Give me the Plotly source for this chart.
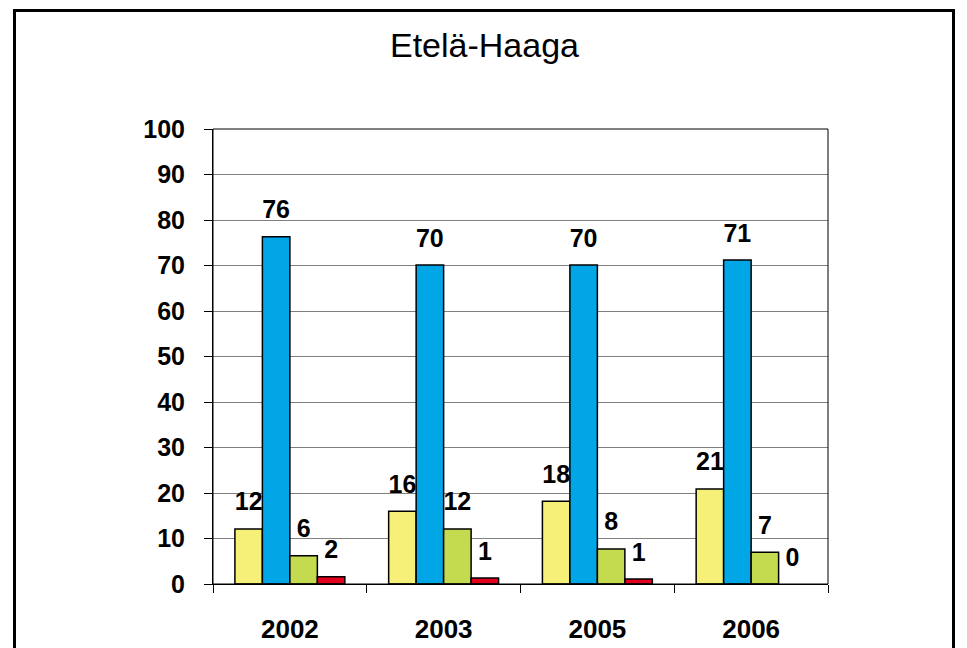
import plotly.graph_objects as go

years = ["2002", "2003", "2005", "2006"]
series_yellow = [12.1, 16.0, 18.2, 20.9]
series_blue = [76.3, 70.1, 70.1, 71.2]
series_green = [6.2, 12.1, 7.7, 7.0]
series_red = [1.6, 1.3, 1.1, 0.0]
y_ticks = [0, 10, 20, 30, 40, 50, 60, 70, 80, 90, 100]

colors = ["#F6EF78", "#00A6E6", "#C4DB50", "#E1001E"]
all_series = [series_yellow, series_blue, series_green, series_red]
names = ["s1", "s2", "s3", "s4"]

FONT = "Liberation Sans, Arial, sans-serif"
GAP = 0.285

fig = go.Figure()
for name, vals, col in zip(names, all_series, colors):
    fig.add_trace(go.Bar(
        x=years, y=vals, name=name,
        marker=dict(color=col, line=dict(color="black",
                                         width=[1.5 if v > 0 else 0 for v in vals])),
        showlegend=False, hoverinfo="skip",
    ))
for name, vals in zip(names, all_series):
    fig.add_trace(go.Scatter(
        x=years, y=vals, mode="markers+text",
        text=[f"{v:.0f}" for v in vals],
        textposition="top center",
        textfont=dict(family=FONT, size=25, color="black", weight="bold"),
        marker=dict(size=18, opacity=0),
        showlegend=False, hoverinfo="skip", cliponaxis=False,
    ))

fig.update_layout(
    width=967, height=648,
    margin=dict(l=205, r=147, t=121, b=72),
    paper_bgcolor="white", plot_bgcolor="white",
    barmode="group", bargap=GAP, bargroupgap=0,
    scattermode="group", scattergap=GAP,
    title=dict(text="Etelä-Haaga", x=476.5 / 967, xanchor="center", xref="container",
               y=1 - 37 / 648, yanchor="middle", yref="container",
               font=dict(family=FONT, size=34, color="black")),
    xaxis=dict(
        type="category", tickson="boundaries", ticks="outside", ticklen=8,
        tickcolor="black", tickwidth=1, showline=True, linecolor="black",
        linewidth=1, showgrid=False, ticklabelstandoff=22, automargin=False,
        tickfont=dict(family=FONT, size=26, color="black", weight="bold"),
    ),
    yaxis=dict(
        range=[0, 100], tickvals=y_ticks, ticks="outside", ticklen=8,
        tickcolor="black", showline=True, linecolor="black", linewidth=1,
        showgrid=True, gridcolor="#808080", gridwidth=1, zeroline=False,
        ticklabelstandoff=14, automargin=False,
        tickfont=dict(family=FONT, size=25, color="black", weight="bold"),
    ),
    shapes=[
        dict(type="rect", xref="paper", yref="paper", x0=0, x1=1, y0=0, y1=1,
             line=dict(color="black", width=1), layer="above"),
        dict(type="rect", xref="paper", yref="paper",
             xsizemode="pixel", xanchor=0, x0=14.5 - 213, x1=953.5 - 213,
             ysizemode="pixel", yanchor=1, y0=118.5, y1=-560,
             line=dict(color="black", width=3), layer="above"),
    ],
)

fig.write_html("out.html")
